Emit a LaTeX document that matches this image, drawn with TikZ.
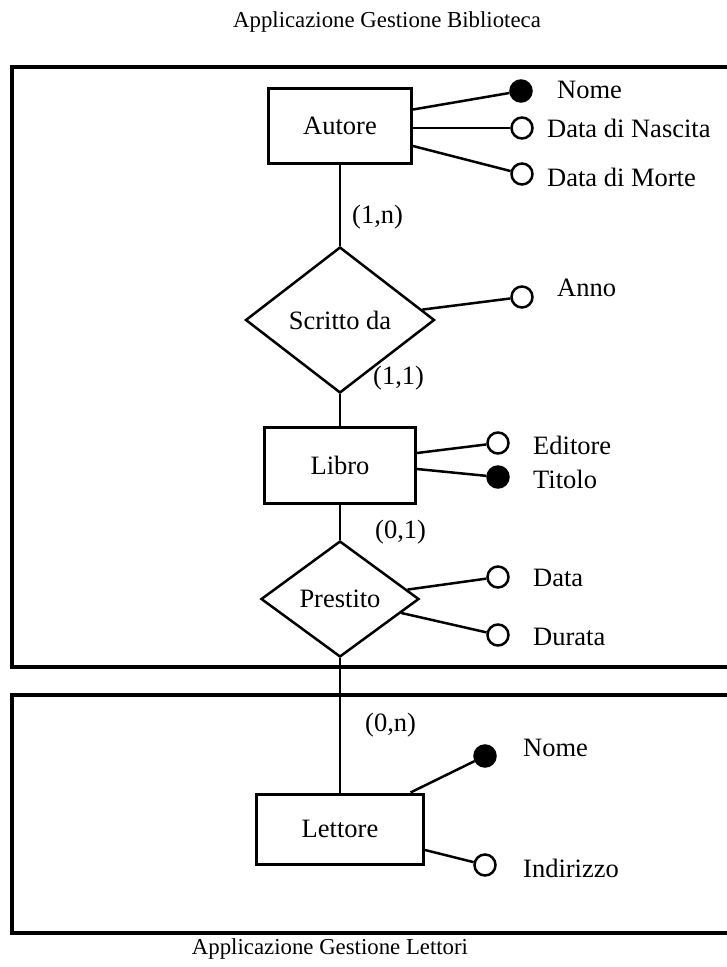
\documentclass[tikz,border=0pt]{standalone}
\usepackage{fontspec}
\setmainfont{Liberation Serif}
\usetikzlibrary{shapes.geometric}
\begin{document}
\begin{tikzpicture}[x=1pt,y=-1pt,
  lbl/.style={font=\fontsize{26.5}{31}\selectfont, inner sep=0pt},
  ttl/.style={font=\fontsize{22.8}{28}\selectfont, inner sep=0pt},
  entity/.style={draw, line width=3pt, rectangle, inner sep=0pt, font=\fontsize{26.5}{31}\selectfont},
  rel/.style={draw, line width=2.5pt, diamond, inner sep=0pt, font=\fontsize{26.5}{31}\selectfont},
  attro/.style={draw, line width=2.5pt, circle, fill=white, minimum size=21pt, inner sep=0pt},
  attrf/.style={draw, line width=2.5pt, circle, fill=black, minimum size=21pt, inner sep=0pt},
  conn/.style={line width=2.5pt},
  frame/.style={line width=3.5pt}
]
\useasboundingbox (0,0) rectangle (727,967);

% frames
\draw[frame] (727,67) -- (12,67) -- (12,667) -- (727,667);
\draw[frame] (727,695) -- (12,695) -- (12,933) -- (727,933);

% titles
\node[ttl] (t1) at (387,22) {Applicazione Gestione Biblioteca};
\node[ttl] (t2) at (330,949) {Applicazione Gestione Lettori};

% entities and relations
\node[entity, minimum width=143pt, minimum height=75pt] (autore) at (340,125.5) {Autore};
\node[rel, minimum width=189pt, minimum height=146pt] (scritto) at (340,320) {Scritto da};
\node[entity, minimum width=151pt, minimum height=76pt] (libro) at (340,465) {Libro};
\node[rel, minimum width=158pt, minimum height=116pt] (prestito) at (340,599) {Prestito};
\node[entity, minimum width=167pt, minimum height=70pt] (lettore) at (340,829) {Lettore};

% main connectors
\draw[conn] (autore) -- (scritto);
\draw[conn] (scritto) -- (libro);
\draw[conn] (libro) -- (prestito);
\draw[conn] (prestito) -- (lettore);

% cardinalities
\node[lbl, anchor=west] (c1) at (352,217) {(1,n)};
\node[lbl, anchor=west] (c2) at (373,378) {(1,1)};
\node[lbl, anchor=west] (c3) at (375,532) {(0,1)};
\node[lbl, anchor=west] (c4) at (365,725) {(0,n)};

% Autore attributes
\node[attrf] (anome) at (521,91) {};
\node[attro] (anascita) at (522,128) {};
\node[attro] (amorte) at (522,174) {};
\draw[conn] ([yshift=16pt]autore.east) -- (anome);
\draw[conn] ([yshift=-2.5pt]autore.east) -- (anascita);
\draw[conn] ([yshift=-20.5pt]autore.east) -- (amorte);
\node[lbl, anchor=west] (lanome) at (557,90) {Nome};
\node[lbl, anchor=west] (lanascita) at (547,128) {Data di Nascita};
\node[lbl, anchor=west] (lamorte) at (547,177) {Data di Morte};

% Scritto da attribute
\node[attro] (anno) at (522,297) {};
\draw[conn] (scritto) -- (anno);
\node[lbl, anchor=west] (lanno) at (557,288) {Anno};

% Libro attributes
\node[attro] (editore) at (498,443) {};
\node[attrf] (titolo) at (498,477) {};
\draw[conn] ([yshift=12pt]libro.east) -- (editore);
\draw[conn] ([yshift=-4pt]libro.east) -- (titolo);
\node[lbl, anchor=west] (leditore) at (533,445) {Editore};
\node[lbl, anchor=west] (ltitolo) at (533,479) {Titolo};

% Prestito attributes
\node[attro] (data) at (498,577) {};
\node[attro] (durata) at (498,635) {};
\draw[conn] (prestito) -- (data);
\draw[conn] (prestito) -- (durata);
\node[lbl, anchor=west] (ldata) at (533,578) {Data};
\node[lbl, anchor=west] (ldurata) at (533,637) {Durata};

% Lettore attributes
\node[attrf] (lnome) at (485,756) {};
\node[attro] (indirizzo) at (485,865) {};
\draw[conn] ([xshift=70.5pt]lettore.north) -- (lnome);
\draw[conn] ([yshift=-21pt]lettore.east) -- (indirizzo);
\node[lbl, anchor=west] (llnome) at (523,748) {Nome};
\node[lbl, anchor=west] (lindirizzo) at (523,868) {Indirizzo};
\end{tikzpicture}
\end{document}
